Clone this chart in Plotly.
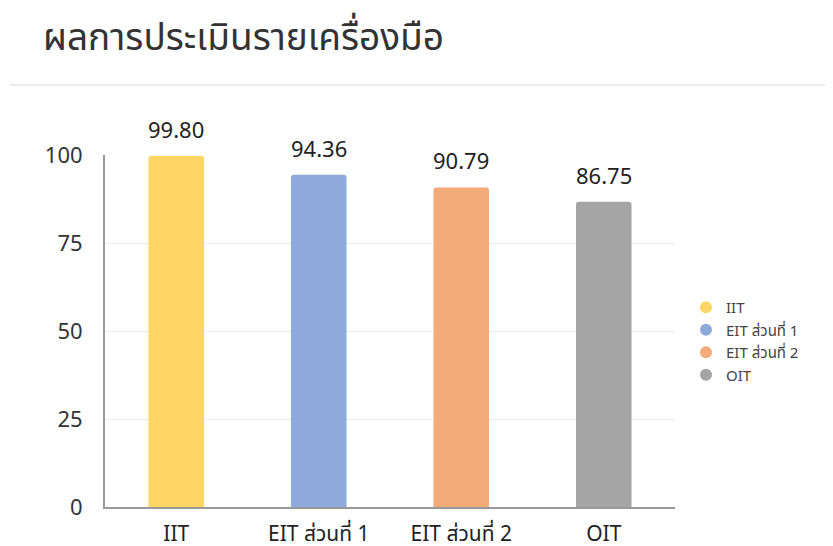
import plotly.graph_objects as go

categories = ["IIT", "EIT ส่วนที่ 1", "EIT ส่วนที่ 2", "OIT"]
scores = [99.80, 94.36, 90.79, 86.75]
colors = ["#FDD666", "#8EAADB", "#F4AA79", "#A5A5A5"]
y_ticks = [0, 25, 50, 75, 100]
title_text = "ผลการประเมินรายเครื่องมือ"

# page has an 8px body margin, so the figure is laid out in shifted coordinates
OFF = 8
W, H = 825, 538
L, T = 105 - OFF, 155 - OFF
R = W - (675 - OFF)
B = H - (507 - OFF)
PW, PH = W - L - R, H - T - B

fig = go.Figure()
for c, v, col in zip(categories, scores, colors):
    fig.add_trace(go.Bar(
        x=[c], y=[v], marker=dict(color=col, line=dict(width=0), cornerradius=3),
        width=0.39, showlegend=False, offsetgroup="a", hoverinfo="x+y",
    ))
for c, col in zip(categories, colors):
    fig.add_trace(go.Scatter(
        x=[None], y=[None], mode="markers", name=c,
        marker=dict(symbol="circle", size=15, color=col),
    ))

annotations = [dict(x=c, y=v, text=f"{v:.2f}", showarrow=False, yshift=27,
                    xanchor="center", yanchor="middle",
                    font=dict(size=22, color="#222"))
               for c, v in zip(categories, scores)]
annotations.append(dict(text=title_text, xref="paper", yref="paper",
                        x=-(L - (41 - OFF)) / PW, y=1 + (T - (35 - OFF)) / PH,
                        xanchor="left", yanchor="middle", showarrow=False,
                        font=dict(size=37, color="#333")))

line_y = 1 + (T - (85 - OFF)) / PH
fig.update_layout(
    width=W, height=H,
    margin=dict(l=L, r=R, t=T, b=B, autoexpand=False),
    paper_bgcolor="white", plot_bgcolor="white",
    font=dict(family="Noto Sans, Noto Sans Thai, sans-serif", color="#333"),
    barmode="overlay",
    showlegend=True,
    legend=dict(x=1 + 11 / PW, y=0.5 - 10 / PH, xanchor="left", yanchor="middle",
                font=dict(size=15, color="#444"), itemsizing="constant",
                tracegroupgap=0, bgcolor="rgba(0,0,0,0)"),
    xaxis=dict(categoryorder="array", categoryarray=categories,
               showline=True, linecolor="#999", linewidth=2,
               tickfont=dict(size=21, color="#222"), ticks="", showgrid=False,
               ticklabelstandoff=7, automargin=False),
    yaxis=dict(range=[0, 100], tickvals=y_ticks,
               showline=True, linecolor="#999", linewidth=2,
               showgrid=True, gridcolor="#ececec", gridwidth=1,
               tickfont=dict(size=22, color="#333"), ticks="",
               ticklabelstandoff=16, zeroline=False, automargin=False),
    annotations=annotations,
    shapes=[dict(type="line", xref="paper", yref="paper",
                 x0=-(L - (10 - OFF)) / PW, x1=1 + R / PW,
                 y0=line_y, y1=line_y,
                 line=dict(color="#ebebeb", width=2))],
)

fig.write_html("out.html")
